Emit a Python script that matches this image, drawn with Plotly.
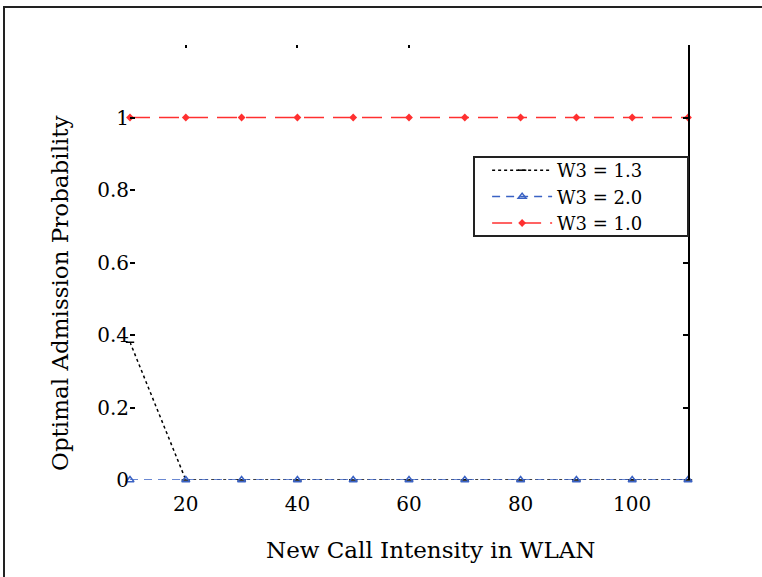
import plotly.graph_objects as go

x_vals = [10, 20, 30, 40, 50, 60, 70, 80, 90, 100, 110]
w13 = [0.38, 0, 0, 0, 0, 0, 0, 0, 0, 0, 0]
w20 = [0, 0, 0, 0, 0, 0, 0, 0, 0, 0, 0]
w10 = [1, 1, 1, 1, 1, 1, 1, 1, 1, 1, 1]
names = ["W3 = 1.3", "W3 = 2.0", "W3 = 1.0"]
x_ticks = [20, 40, 60, 80, 100]
y_ticks = [0, 0.2, 0.4, 0.6, 0.8, 1.0]
x_title = "New Call Intensity in WLAN"
y_title = "Optimal Admission Probability"

FONT = "DejaVu Serif"

fig = go.Figure()
fig.add_trace(go.Scatter(x=x_vals, y=w13, name=names[0], mode="lines+markers",
                         line=dict(color="black", width=1.5, dash="dot"),
                         marker=dict(symbol="line-ew-open", size=6, color="black", line=dict(width=1.5)),
                         cliponaxis=False))
fig.add_trace(go.Scatter(x=x_vals, y=w20, name=names[1], mode="lines+markers",
                         line=dict(color="#3a62c4", width=1.5, dash="8px,6px"),
                         marker=dict(symbol="triangle-up-open", size=7, color="#3a62c4", line=dict(width=1.5)),
                         cliponaxis=False))
fig.add_trace(go.Scatter(x=x_vals, y=w10, name=names[2], mode="lines+markers",
                         line=dict(color="#ff3030", width=1.5, dash="20px,9px"),
                         marker=dict(symbol="diamond", size=6, color="#ff3030"),
                         cliponaxis=False))
# invisible helper traces for mirrored axes
fig.add_trace(go.Scatter(x=[x_vals[0]], y=[w20[0]], xaxis="x2", yaxis="y", showlegend=False,
                         mode="markers", marker=dict(opacity=0), hoverinfo="skip"))
fig.add_trace(go.Scatter(x=[x_vals[0]], y=[w20[0]], xaxis="x", yaxis="y2", showlegend=False,
                         mode="markers", marker=dict(opacity=0), hoverinfo="skip"))

fig.update_layout(
    width=762, height=577,
    margin=dict(l=130, r=74, t=45, b=97),
    paper_bgcolor="white", plot_bgcolor="white",
    font=dict(family=FONT, size=20, color="black"),
    showlegend=True,
    legend=dict(x=0.64, xanchor="left", y=0.754, yanchor="top",
                borderwidth=0, bgcolor="rgba(0,0,0,0)",
                font=dict(family=FONT, size=18), tracegroupgap=0,
                itemwidth=60),
    xaxis=dict(range=[10, 110], tickvals=x_ticks, ticks="", showline=False,
               showgrid=False, zeroline=False, ticklabelstandoff=10),
    xaxis2=dict(range=[10, 110], overlaying="x", side="top", tickvals=[20, 40, 60],
                ticks="inside", ticklen=3, tickwidth=1.5, tickcolor="black",
                showticklabels=False, showline=False, showgrid=False, zeroline=False),
    yaxis=dict(range=[0, 1.2], tickvals=y_ticks, ticks="inside", ticklen=5,
               tickwidth=1.5, tickcolor="black", showline=False, showgrid=False,
               zeroline=False),
    yaxis2=dict(range=[0, 1.2], overlaying="y", side="right", tickvals=y_ticks[1:],
                ticks="inside", ticklen=5, tickwidth=1.5, tickcolor="black",
                showticklabels=False, showline=True, linecolor="black", linewidth=2,
                showgrid=False, zeroline=False),
    annotations=[
        dict(text=x_title, xref="paper", yref="paper", x=0.539, y=-0.161,
             xanchor="center", yanchor="middle", showarrow=False, font=dict(size=23)),
        dict(text=y_title, xref="paper", yref="paper", x=-0.1254, y=0.43, textangle=-90,
             xanchor="center", yanchor="middle", showarrow=False, font=dict(size=23)),
    ],
    shapes=[
        dict(type="rect", xref="paper", yref="paper",
             x0=-0.2258, x1=2, y0=-2, y1=1.0874,
             line=dict(color="#222", width=2), fillcolor="rgba(0,0,0,0)", layer="above"),
        dict(type="rect", xref="paper", yref="paper",
             x0=(474 - 130) / 558, x1=1.0, y0=(480 - 236) / 435, y1=(480 - 157) / 435,
             line=dict(color="#222", width=2), fillcolor="white", layer="above"),
    ],
)

fig.write_html("out.html", config={"displayModeBar": False},
               post_script="document.body.style.margin='0';")
